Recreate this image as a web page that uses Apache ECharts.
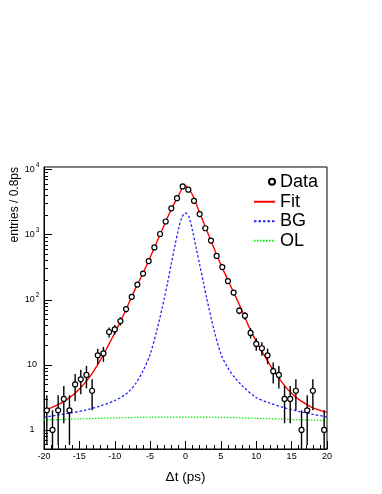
<!DOCTYPE html>
<html>
<head>
<meta charset="utf-8">
<script src="https://cdn.jsdelivr.net/npm/echarts@6/dist/echarts.min.js"></script>
<style>
html, body { margin: 0; padding: 0; background: #fff; }
#chart { width: 382px; height: 494px; }
</style>
</head>
<body>
<div id="chart"></div>
<script>
// histogram: 0.8 ps bins from -20 to 20
const binX = [-19.6, -18.8, -18.0, -17.2, -16.4, -15.6, -14.8, -14.0, -13.2, -12.4,
    -11.6, -10.8, -10.0, -9.2, -8.4, -7.6, -6.8, -6.0, -5.2, -4.4,
    -3.6, -2.8, -2.0, -1.2, -0.4, 0.4, 1.2, 2.0, 2.8, 3.6,
    4.4, 5.2, 6.0, 6.8, 7.6, 8.4, 9.2, 10.0, 10.8, 11.6,
    12.4, 13.2, 14.0, 14.8, 15.6, 16.4, 17.2, 18.0, 18.8, 19.6];
const entries = [2, 1, 2, 3, 2, 5, 6, 7, 4, 14,
    15, 32, 35, 47, 72, 111, 171, 253, 393, 638,
    1025, 1595, 2540, 3640, 5520, 4910, 3310, 2075, 1255, 811,
    472, 318, 194, 129, 68, 57, 31, 21, 18, 14,
    8, 7, 3, 3, 4, 1, 2, 4, 0, 1];

// curves
const fitX = [-20, -19, -18, -17, -16, -15, -14, -13, -12, -11, -10, -9, -8, -7, -6, -5, -4, -3, -2, -1, -0.5, -0.25,
    0, 0.5, 1, 1.5, 2, 3, 4, 5, 6, 7, 8, 9, 10, 11, 12, 13, 14, 15, 16, 17, 18, 19, 20];
const fitY = [2.0, 2.19, 2.45, 2.82, 3.39, 4.27, 5.62, 7.94, 12.0, 19.1, 30.9, 51.3, 89.1, 155, 257, 447, 794, 1413, 2455, 3981, 5129, 5781,
    5623, 5012, 4074, 3020, 2188, 1161, 631, 347, 200, 117, 67.6, 38.0, 22.9, 14.8, 9.77, 6.76, 4.79, 3.63, 2.95, 2.51, 2.19, 2.0, 1.86];

const bgX = [-20, -18, -16, -14, -12, -10, -9, -8, -7, -6, -5, -4, -3, -2.5, -2, -1.5, -1, -0.5, 0,
    0.5, 1, 1.5, 2, 2.5, 3, 4, 5, 6, 7, 8, 10, 12, 14, 16, 18, 20];
const bgY = [1.57, 1.70, 1.84, 2.04, 2.34, 2.82, 3.24, 3.89, 5.25, 8.13, 14.5, 35.5, 105, 191, 363, 676, 1202, 1862, 2153,
    1862, 1148, 631, 347, 191, 105, 35.5, 14.8, 8.91, 6.31, 4.79, 3.16, 2.57, 2.19, 1.93, 1.74, 1.58];

const olX = [-20, -15, -10, -5, 0, 5, 10, 15, 20];
const olY = [1.42, 1.48, 1.53, 1.57, 1.58, 1.56, 1.51, 1.45, 1.39];

const yMajor = [1, 10, 100, 1000, 10000];
const yMinor = [0.6, 0.7, 0.8, 0.9, 2, 3, 4, 5, 6, 7, 8, 9, 20, 30, 40, 50, 60, 70, 80, 90,
    200, 300, 400, 500, 600, 700, 800, 900, 2000, 3000, 4000, 5000, 6000, 7000, 8000, 9000];

const yMin = 0.51;
const yMax = 10960;
const font = 'Liberation Sans, Arial, Helvetica, sans-serif';

const points = [];
binX.forEach((x, i) => {
    if (entries[i] > 0) points.push([x, entries[i]]);
});

function pairs(xs, ys) {
    return xs.map((x, i) => [x, ys[i]]);
}

const chart = echarts.init(document.getElementById('chart'));
chart.setOption({
    animation: false,
    textStyle: { fontFamily: font },
    grid: {
        left: 44, right: 55, top: 167, bottom: 45,
        show: true, borderColor: '#000', borderWidth: 1
    },
    legend: [
        {
            data: ['Data'], left: 268, top: 172, padding: 0,
            itemWidth: 6, itemHeight: 6, selectedMode: false,
            textStyle: { fontSize: 18, lineHeight: 19.5, color: '#000', fontFamily: font }
        },
        {
            data: ['Fit', 'BG', 'OL'], left: 253, top: 192, padding: 0,
            orient: 'vertical', itemGap: 0, itemWidth: 21, itemHeight: 10, selectedMode: false,
            itemStyle: { opacity: 0 },
            textStyle: { fontSize: 18, lineHeight: 19.5, color: '#000', fontFamily: font }
        }
    ],
    xAxis: {
        type: 'value', min: -20, max: 20, interval: 5,
        axisLine: { onZero: false, lineStyle: { color: '#000', width: 1 } },
        axisTick: { inside: true, length: 8, lineStyle: { color: '#000' } },
        minorTick: { show: true, splitNumber: 5, length: 4, lineStyle: { color: '#000' } },
        splitLine: { show: false },
        axisLabel: { fontSize: 9, color: '#000', margin: 3 },
        name: 'Δt (ps)', nameLocation: 'middle', nameGap: 21,
        nameTextStyle: { fontSize: 13.5, color: '#000' }
    },
    yAxis: [
        {
            type: 'log', logBase: 10, min: yMin, max: yMax, position: 'left',
            axisLine: { show: true, onZero: false, lineStyle: { color: '#000', width: 1 } },
            axisTick: { show: true, inside: true, length: 8, customValues: yMajor, lineStyle: { color: '#000' } },
            splitLine: { show: false },
            axisLabel: {
                customValues: yMajor, margin: 12, align: 'center', color: '#000',
                formatter: v => {
                    if (v < 5) return '{p|1}';
                    if (v < 50) return '{p|10}';
                    return '{b|10}{s|' + Math.round(Math.log10(v)) + '}';
                },
                rich: {
                    p: { fontSize: 9, color: '#000' },
                    b: { fontSize: 9, lineHeight: 10, color: '#000' },
                    s: { fontSize: 6.5, lineHeight: 7, padding: [0, 0, 6, 1], verticalAlign: 'bottom', color: '#000' }
                }
            }
        },
        {
            type: 'log', logBase: 10, min: yMin, max: yMax, position: 'left',
            axisLine: { show: false, onZero: false },
            axisTick: { show: true, inside: true, length: 4, customValues: yMinor, lineStyle: { color: '#000' } },
            axisLabel: { show: false },
            splitLine: { show: false }
        }
    ],
    graphic: [{
        type: 'text', x: 15, y: 167, rotation: Math.PI / 2,
        style: { text: 'entries / 0.8ps', font: '12px ' + font, fill: '#000', align: 'right', verticalAlign: 'middle' }
    }],
    series: [
        {
            name: 'OL', type: 'line', data: pairs(olX, olY), symbol: 'none', smooth: 0.3,
            lineStyle: { color: '#00ee00', width: 1.2, type: [1.5, 1.5] }, itemStyle: { color: '#00ee00' }, z: 2
        },
        {
            name: 'BG', type: 'line', data: pairs(bgX, bgY), symbol: 'none', smooth: 0.3,
            lineStyle: { color: '#2222ff', width: 1.3, type: [2.5, 2] }, itemStyle: { color: '#2222ff' }, z: 2
        },
        {
            name: 'Fit', type: 'line', data: pairs(fitX, fitY), symbol: 'none', smooth: 0.3,
            lineStyle: { color: '#ff0000', width: 1.4 }, itemStyle: { color: '#ff0000' }, z: 3
        },
        {
            name: 'errors', type: 'custom', data: points, z: 4, silent: true, clip: true,
            renderItem: (params, api) => {
                const x = api.value(0);
                const n = api.value(1);
                const e = Math.sqrt(n);
                const top = api.coord([x, n + e]);
                const bot = api.coord([x, Math.max(n - e, yMin)]);
                return {
                    type: 'line',
                    shape: { x1: top[0], y1: top[1], x2: bot[0], y2: bot[1] },
                    style: { stroke: '#000', lineWidth: 1.4 }
                };
            }
        },
        {
            name: 'Data', type: 'scatter', data: points, symbol: 'circle', symbolSize: 5,
            itemStyle: { color: '#fff', borderColor: '#000', borderWidth: 1.2, opacity: 1 }, z: 5
        }
    ]
});
</script>
</body>
</html>
